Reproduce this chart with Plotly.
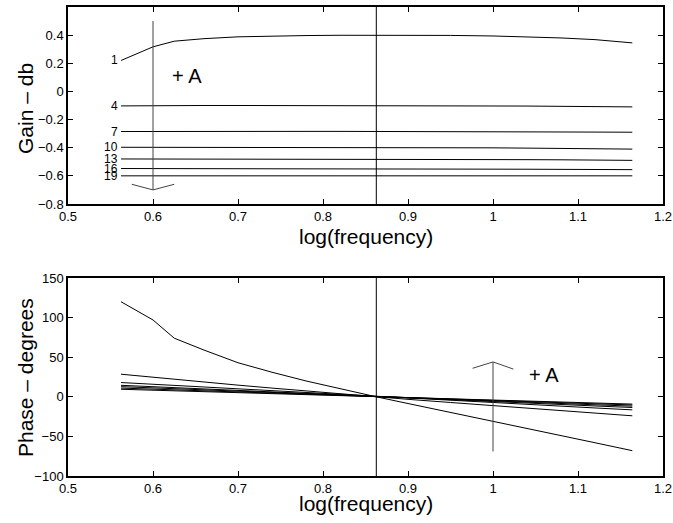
import plotly.graph_objects as go

# log10 of the sampled frequencies
log_freq = [0.5624, 0.6, 0.625, 0.66, 0.7, 0.74, 0.78, 0.82, 0.8627,
            0.9, 0.95, 1.0, 1.04, 1.08, 1.12, 1.1639]

curve_ids = ["1", "4", "7", "10", "13", "16", "19"]

gain_db = {
    "1": [0.22, 0.317, 0.357, 0.375, 0.388, 0.394, 0.397, 0.399, 0.4,
          0.4, 0.398, 0.394, 0.388, 0.38, 0.368, 0.345],
    "4": [-0.103, -0.1, -0.1, -0.1, -0.1, -0.1, -0.1, -0.1, -0.1,
          -0.1, -0.101, -0.102, -0.104, -0.106, -0.108, -0.11],
    "7": [-0.285, -0.284, -0.284, -0.284, -0.284, -0.284, -0.284, -0.284, -0.284,
          -0.284, -0.285, -0.286, -0.287, -0.288, -0.289, -0.29],
    "10": [-0.397, -0.397, -0.397, -0.397, -0.397, -0.397, -0.397, -0.397, -0.397,
           -0.398, -0.399, -0.401, -0.403, -0.405, -0.407, -0.41],
    "13": [-0.48, -0.48, -0.48, -0.48, -0.48, -0.48, -0.48, -0.48, -0.481,
           -0.482, -0.483, -0.484, -0.485, -0.486, -0.488, -0.49],
    "16": [-0.548, -0.548, -0.548, -0.548, -0.548, -0.548, -0.549, -0.549, -0.55,
           -0.55, -0.551, -0.552, -0.553, -0.554, -0.555, -0.556],
    "19": [-0.6, -0.6, -0.6, -0.6, -0.6, -0.6, -0.6, -0.6, -0.6,
           -0.6, -0.6, -0.6, -0.6, -0.6, -0.6, -0.6],
}

phase_deg = {
    "1": [120, 97, 74, 59, 43, 31, 20, 10, 0,
          -8.5, -19.5, -31, -40, -49, -58, -68],
    "4": [28.5, 24.5, 22, 18.5, 14.7, 11, 7.3, 3.8, 0,
          -3.2, -7.2, -11.2, -14.3, -17.4, -20.4, -24],
    "7": [18, 15.8, 14.3, 12.2, 9.8, 7.4, 5.0, 2.6, 0,
          -2.0, -4.8, -7.5, -9.7, -11.9, -14.1, -16.5],
    "10": [14.5, 12.7, 11.5, 9.8, 7.9, 5.9, 4.0, 2.1, 0,
           -1.7, -3.9, -6.2, -8.0, -9.8, -11.6, -13.5],
    "13": [12.8, 11.2, 10.1, 8.6, 6.9, 5.2, 3.5, 1.8, 0,
           -1.5, -3.4, -5.4, -7.0, -8.5, -10.1, -11.8],
    "16": [11, 9.6, 8.7, 7.4, 6.0, 4.5, 3.0, 1.6, 0,
           -1.3, -3.0, -4.7, -6.1, -7.4, -8.8, -10.3],
    "19": [9.5, 8.3, 7.5, 6.4, 5.1, 3.9, 2.6, 1.3, 0,
           -1.1, -2.7, -4.2, -5.4, -6.7, -7.9, -9.2],
}

# centre frequency marker
center_log_freq = 0.8627

# direction-of-increasing-A arrows (shaft + head polylines)
gain_arrow_shaft_x = [0.6, 0.6]
gain_arrow_shaft_y = [0.5, -0.7]
gain_arrow_head_x = [0.575, 0.6, 0.625]
gain_arrow_head_y = [-0.66, -0.7, -0.66]
phase_arrow_shaft_x = [1.0, 1.0]
phase_arrow_shaft_y = [-69, 44]
phase_arrow_head_x = [0.976, 1.0, 1.024]
phase_arrow_head_y = [36, 44, 35]

x_ticks = [0.5, 0.6, 0.7, 0.8, 0.9, 1.0, 1.1, 1.2]
x_tick_text = ["0.5", "0.6", "0.7", "0.8", "0.9", "1", "1.1", "1.2"]
gain_ticks = [-0.8, -0.6, -0.4, -0.2, 0, 0.2, 0.4]
gain_tick_text = ["\u22120.8", "\u22120.6", "\u22120.4", "\u22120.2", "0", "0.2", "0.4"]
phase_ticks = [-100, -50, 0, 50, 100, 150]
phase_tick_text = ["\u2212100", "\u221250", "0", "50", "100", "150"]

FONT = "Liberation Sans, Arial, Helvetica, sans-serif"
LINE = dict(color="black", width=1)
TITLE_FONT = dict(family=FONT, size=21, color="black")

fig = go.Figure()

for cid in curve_ids:
    fig.add_trace(go.Scatter(x=log_freq, y=gain_db[cid], mode="lines",
                             line=LINE, xaxis="x", yaxis="y", showlegend=False))
    fig.add_trace(go.Scatter(x=log_freq, y=phase_deg[cid], mode="lines",
                             line=LINE, xaxis="x2", yaxis="y2", showlegend=False))

arrow_line = dict(color="#444444", width=1)
fig.add_trace(go.Scatter(x=gain_arrow_shaft_x, y=gain_arrow_shaft_y, mode="lines",
                         line=arrow_line, xaxis="x", yaxis="y", showlegend=False))
fig.add_trace(go.Scatter(x=gain_arrow_head_x, y=gain_arrow_head_y, mode="lines",
                         line=arrow_line, xaxis="x", yaxis="y", showlegend=False))
fig.add_trace(go.Scatter(x=phase_arrow_shaft_x, y=phase_arrow_shaft_y, mode="lines",
                         line=arrow_line, xaxis="x2", yaxis="y2", showlegend=False))
fig.add_trace(go.Scatter(x=phase_arrow_head_x, y=phase_arrow_head_y, mode="lines",
                         line=arrow_line, xaxis="x2", yaxis="y2", showlegend=False))

annotations = []
for cid in curve_ids:
    annotations.append(dict(x=log_freq[0], y=gain_db[cid][0], xref="x", yref="y",
                            text=cid, showarrow=False, xanchor="right",
                            yanchor="middle", xshift=-1,
                            font=dict(family=FONT, size=12, color="black")))
annotations.append(dict(x=0.64, y=0.11, xref="x", yref="y", text="+ A",
                        showarrow=False, font=dict(family=FONT, size=20, color="black")))
annotations.append(dict(x=1.06, y=28, xref="x2", yref="y2", text="+ A",
                        showarrow=False, font=dict(family=FONT, size=20, color="black")))

# axis titles, placed in paper coordinates
annotations += [
    dict(text="log(frequency)", x=0.5, y=0.5096, xref="paper", yref="paper",
         xanchor="center", yanchor="middle", showarrow=False, font=TITLE_FONT),
    dict(text="log(frequency)", x=0.5, y=-0.0585, xref="paper", yref="paper",
         xanchor="center", yanchor="middle", showarrow=False, font=TITLE_FONT),
    dict(text="Gain \u2013 db", x=-0.0723, y=0.7846, xref="paper", yref="paper",
         xanchor="center", yanchor="middle", textangle=-90, showarrow=False,
         font=TITLE_FONT),
    dict(text="Phase \u2013 degrees", x=-0.0723, y=0.211, xref="paper", yref="paper",
         xanchor="center", yanchor="middle", textangle=-90, showarrow=False,
         font=TITLE_FONT),
]

shapes = [
    dict(type="line", xref="x", yref="y domain", x0=center_log_freq, x1=center_log_freq,
         y0=0, y1=1, line=dict(color="black", width=1)),
    dict(type="line", xref="x2", yref="y2 domain", x0=center_log_freq, x1=center_log_freq,
         y0=0, y1=1, line=dict(color="black", width=1)),
]

axis_common = dict(showline=True, linecolor="black", linewidth=1.5, mirror="ticks",
                   ticks="inside", ticklen=5, tickcolor="black", tickwidth=1,
                   showgrid=False, zeroline=False, automargin=False,
                   tickfont=dict(family=FONT, size=13, color="black"))

fig.update_layout(
    width=673, height=523,
    margin=dict(l=68, r=10, t=7, b=47),
    plot_bgcolor="white", paper_bgcolor="white",
    font=dict(family=FONT, color="black"),
    xaxis=dict(range=[0.5, 1.2], tickvals=x_ticks, ticktext=x_tick_text,
               domain=[0, 1], anchor="y", **axis_common),
    yaxis=dict(range=[-0.8, 0.6], tickvals=gain_ticks, ticktext=gain_tick_text,
               domain=[0.58, 1], anchor="x", **axis_common),
    xaxis2=dict(range=[0.5, 1.2], tickvals=x_ticks, ticktext=x_tick_text,
                domain=[0, 1], anchor="y2", **axis_common),
    yaxis2=dict(range=[-100, 150], tickvals=phase_ticks, ticktext=phase_tick_text,
                domain=[0, 0.4222], anchor="x2", **axis_common),
    annotations=annotations,
    shapes=shapes,
)

fig.write_html("out.html")
